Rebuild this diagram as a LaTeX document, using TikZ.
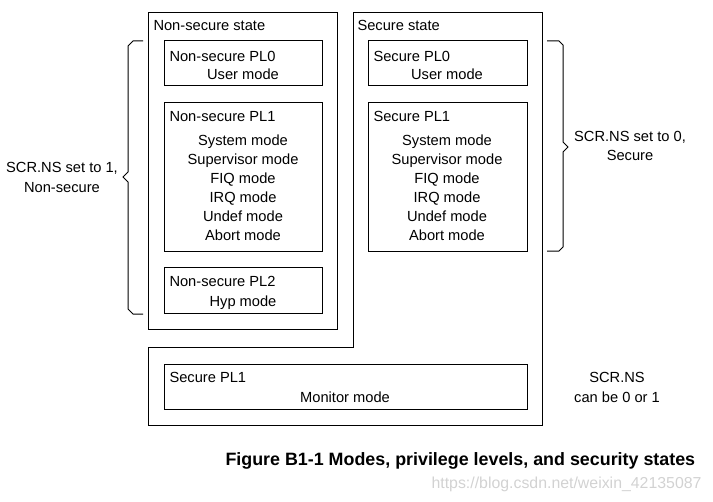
\documentclass[tikz,border=0pt]{standalone}
\usepackage{fontspec}
\setmainfont{Liberation Sans}

\begin{document}
\begin{tikzpicture}[x=0.75pt, y=-0.75pt, font=\fontsize{11}{13}\selectfont,
  every node/.style={inner sep=0pt, text height=11pt, text depth=2.3pt}, line width=0.75pt]
\useasboundingbox (0,0) rectangle (713,502);
\draw (148,13) rectangle (337,329);
\draw (353,13) -- (542,13) -- (542,425) -- (148,425) -- (148,347) -- (353,347) -- cycle;
\draw (164,41) rectangle (322,86);
\draw (164,103) rectangle (322,251);
\draw (164,267) rectangle (322,313);
\draw (368,41) rectangle (527,86);
\draw (368,103) rectangle (527,251);
\draw (164,364) rectangle (527,409);
\node [anchor=west] (nsstate) at (153,25) {Non-secure state};
\node [anchor=west] (sstate) at (357,25) {Secure state};
\node [anchor=west] (nspl0) at (169,56) {Non-secure PL0};
\node (nsuser) at (243,74) {User mode};
\node [anchor=west] (nspl1) at (169,116) {Non-secure PL1};
\node [anchor=west] (nspl2) at (169,281) {Non-secure PL2};
\node (nshyp) at (243,301) {Hyp mode};
\node [anchor=west] (spl0) at (373,56) {Secure PL0};
\node (suser) at (447,74) {User mode};
\node [anchor=west] (spl1) at (373,116) {Secure PL1};
\foreach \m [count=\i] in {System mode, Supervisor mode, FIQ mode, IRQ mode, Undef mode, Abort mode}
{
\node (nsmode\i) at (243,121+19*\i) {\m};
\node (smode\i) at (447,121+19*\i) {\m};
}
\node [anchor=west] (mpl1) at (169,377) {Secure PL1};
\node (monitor) at (345,397) {Monitor mode};
% braces
\draw (143,41) -- (133,41) -- (128,46) -- (128,172) -- (123,177) -- (128,182) -- (128,309) -- (133,314) -- (143,314);
\draw (547,41) -- (559,41) -- (563,45) -- (563,142) -- (568,147) -- (563,152) -- (563,247) -- (559,251) -- (547,251);
\node (nslabel) at (62,167) {SCR.NS set to 1,};
\node (nslabel2) at (62,187) {Non-secure};
\node (slabel) at (630,136) {SCR.NS set to 0,};
\node (slabel2) at (630,155) {Secure};
\node (anylabel) at (617,377) {SCR.NS};
\node (anylabel2) at (617,397) {can be 0 or 1};
\node [anchor=west, font=\fontsize{13.4}{15}\selectfont\bfseries] (caption) at (225,460) {Figure B1-1 Modes, privilege levels, and security states};
\node [anchor=east, text=gray!35, font=\fontsize{11.9}{14}\selectfont] (mark) at (702,483) {https://blog.csdn.net/weixin\_42135087};
\end{tikzpicture}
\end{document}
